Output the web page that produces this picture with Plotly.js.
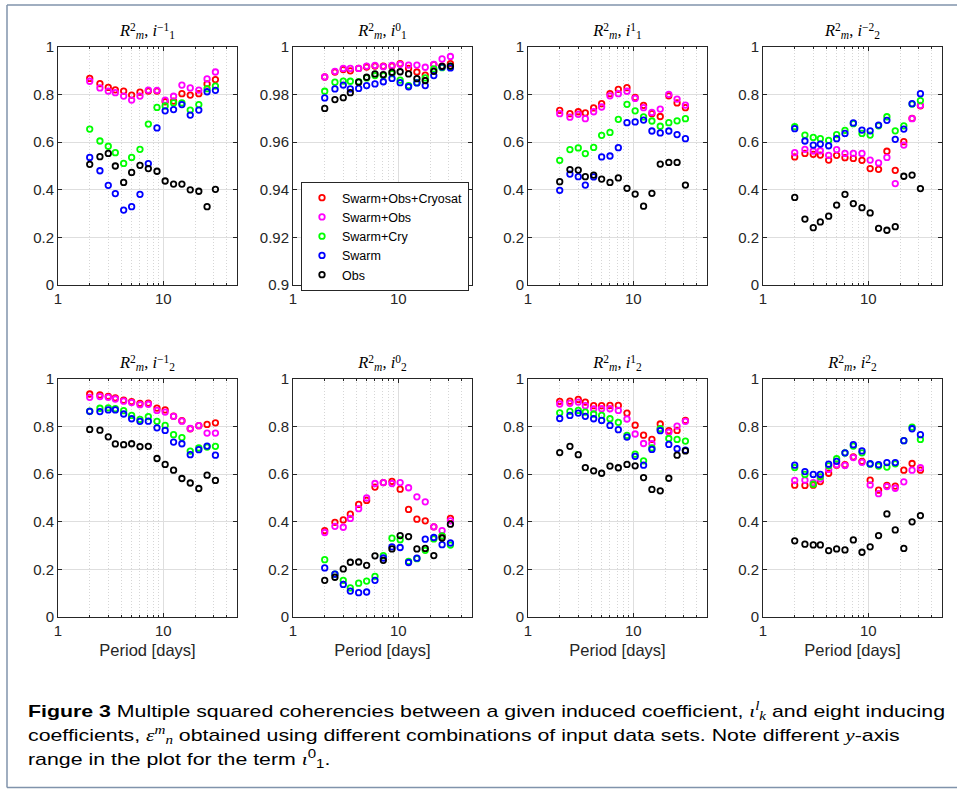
<!DOCTYPE html>
<html>
<head>
<meta charset="utf-8">
<script src="https://cdn.plot.ly/plotly-3.0.1.min.js"></script>
<style>
  html,body{margin:0;padding:0;background:#fff;overflow:hidden;}
  #wrap{position:relative;width:957px;height:789px;}
  #plot{position:absolute;left:0;top:0;width:957px;height:789px;}
  #cap{position:absolute;left:28px;top:700px;font-family:'Liberation Sans',Arial,sans-serif;font-size:17px;line-height:24px;color:#000;white-space:nowrap;transform-origin:0 0;}
  .m{font-family:'Liberation Serif','DejaVu Serif',serif;font-style:italic;}
  .csp{font-size:12px;line-height:0;vertical-align:7px;}
  .csb{font-size:12px;line-height:0;vertical-align:-3px;}
  .ptitle{position:absolute;height:22px;line-height:20px;text-align:center;white-space:nowrap;
          font-family:'Liberation Serif','Times New Roman',serif;font-size:16.5px;color:#000;}
  .sp{font-size:11.5px;line-height:0;vertical-align:5.5px;}
  .sb{font-size:11.5px;line-height:0;vertical-align:-2.7px;}
</style>
</head>
<body>
<div id="wrap">
  <div id="plot"></div>
  <div id="titles"></div>
  <div id="cap">
    <div id="l1"><b>Figure 3</b> Multiple squared coherencies between a given induced coefficient, <span class="m">ι</span><span class="m csp">l</span><span class="m csb">k</span> and eight inducing</div>
    <div id="l2">coefficients, <span class="m">ε</span><span class="m csp">m</span><span class="m csb">n</span> obtained using different combinations of input data sets. Note different <span class="m">y</span>-axis</div>
    <div id="l3">range in the plot for the term <span class="m">ι</span><span class="csp">0</span><span class="csb">1</span>.</div>
  </div>
</div>
<script>
// ---------------- DATA ----------------
const periods = [2, 2.5, 3, 3.5, 4.2, 5, 6, 7.2, 8.7, 10.4, 12.5, 15, 18, 21.7, 26, 31.2];

const seriesNames = ['Swarm+Obs+Cryosat', 'Swarm+Obs', 'Swarm+Cry', 'Swarm', 'Obs'];
const seriesColors = ['#ff0000', '#ff00ff', '#00ff00', '#0000ff', '#000000'];

// panel titles: R^2_m, i^{sup}_{sub}
const titleSup = ['−1', '0', '1', '−2', '−1', '0', '1', '2'];
const titleSub = ['1', '1', '1', '2', '2', '2', '2', '2'];

const yTickVals = [0, 0.2, 0.4, 0.6, 0.8, 1];
const yTickText = ['0', '0.2', '0.4', '0.6', '0.8', '1'];
const yTickValsI10 = [0.9, 0.92, 0.94, 0.96, 0.98, 1];
const yTickTextI10 = ['0.9', '0.92', '0.94', '0.96', '0.98', '1'];
const xTickVals = [1, 10];
const xTickText = ['1', '10'];
const xMinorVals = [2, 3, 4, 5, 6, 7, 8, 9, 20, 30, 40];
const xAxisTitle = 'Period [days]';

// Panel 1: i_1^-1
const p1Red     = [0.868,0.846,0.83,0.82,0.815,0.798,0.81,0.815,0.815,0.77,0.773,0.804,0.798,0.804,0.845,0.863];
const p1Magenta = [0.856,0.828,0.815,0.808,0.794,0.777,0.794,0.819,0.818,0.777,0.793,0.84,0.828,0.819,0.866,0.895];
const p1Green   = [0.655,0.605,0.583,0.556,0.511,0.536,0.57,0.676,0.746,0.752,0.765,0.765,0.735,0.758,0.825,0.836];
const p1Blue    = [0.536,0.48,0.419,0.384,0.315,0.329,0.381,0.51,0.66,0.732,0.737,0.758,0.714,0.735,0.812,0.818];
const p1Black   = [0.507,0.539,0.553,0.5,0.431,0.473,0.503,0.489,0.478,0.437,0.424,0.424,0.40,0.394,0.329,0.402];

// Panel 2: i_1^0
const p2Red     = [0.9874,0.9895,0.9905,0.990,0.991,0.9916,0.992,0.992,0.992,0.993,0.991,0.9895,0.9882,0.9926,0.992,0.993];
const p2Magenta = [0.9874,0.9898,0.991,0.991,0.991,0.992,0.9923,0.9917,0.9923,0.9927,0.9924,0.9924,0.9915,0.9927,0.995,0.996];
const p2Green   = [0.9814,0.9852,0.9857,0.9856,0.9854,0.987,0.988,0.988,0.9888,0.9861,0.9838,0.985,0.987,0.9908,0.9913,0.9919];
const p2Blue    = [0.9786,0.9824,0.984,0.9824,0.9826,0.9838,0.9845,0.9854,0.9868,0.985,0.9833,0.9849,0.9838,0.988,0.9916,0.9912];
const p2Black   = [0.9742,0.9779,0.9787,0.9808,0.9852,0.9873,0.9887,0.9884,0.9894,0.9896,0.9887,0.9867,0.9859,0.9898,0.9919,0.992];

// Panel 3: i_1^1
const p3Red     = [0.734,0.72,0.728,0.723,0.744,0.762,0.804,0.822,0.829,0.788,0.755,0.72,0.708,0.795,0.765,0.745];
const p3Magenta = [0.72,0.705,0.717,0.699,0.728,0.748,0.795,0.804,0.814,0.784,0.745,0.725,0.739,0.801,0.781,0.756];
const p3Green   = [0.524,0.569,0.576,0.552,0.578,0.629,0.641,0.696,0.759,0.732,0.706,0.689,0.667,0.682,0.69,0.699];
const p3Blue    = [0.398,0.466,0.455,0.42,0.454,0.538,0.542,0.577,0.682,0.685,0.693,0.647,0.639,0.647,0.632,0.615];
const p3Black   = [0.434,0.485,0.483,0.455,0.462,0.445,0.431,0.45,0.406,0.382,0.331,0.385,0.508,0.515,0.515,0.42];

// Panel 4: i_2^-2
const p4Red     = [0.538,0.553,0.549,0.546,0.525,0.545,0.535,0.532,0.524,0.489,0.486,0.562,0.482,0.602,0.70,0.753];
const p4Magenta = [0.556,0.57,0.563,0.564,0.545,0.569,0.553,0.553,0.553,0.525,0.513,0.536,0.426,0.588,0.699,0.755];
const p4Green   = [0.665,0.63,0.62,0.615,0.608,0.632,0.65,0.678,0.637,0.63,0.669,0.707,0.648,0.669,0.76,0.775];
const p4Blue    = [0.657,0.605,0.588,0.592,0.585,0.615,0.637,0.681,0.651,0.648,0.672,0.692,0.612,0.655,0.762,0.804];
const p4Black   = [0.368,0.277,0.241,0.265,0.289,0.336,0.381,0.342,0.325,0.303,0.238,0.23,0.245,0.457,0.462,0.405];

// Panel 5: i_2^-1
const p5Red     = [0.937,0.933,0.927,0.921,0.911,0.905,0.898,0.899,0.878,0.87,0.844,0.825,0.791,0.804,0.809,0.816];
const p5Magenta = [0.923,0.926,0.923,0.916,0.907,0.901,0.892,0.894,0.868,0.861,0.843,0.823,0.792,0.804,0.773,0.773];
const p5Green   = [0.865,0.877,0.879,0.875,0.867,0.847,0.83,0.842,0.822,0.805,0.766,0.754,0.697,0.71,0.714,0.717];
const p5Blue    = [0.864,0.863,0.87,0.87,0.853,0.833,0.822,0.823,0.795,0.784,0.735,0.728,0.682,0.703,0.718,0.68];
const p5Black   = [0.788,0.785,0.757,0.727,0.724,0.728,0.716,0.717,0.666,0.641,0.617,0.582,0.563,0.54,0.596,0.574];

// Panel 6: i_2^0
const p6Red     = [0.363,0.398,0.408,0.432,0.473,0.49,0.546,0.565,0.57,0.537,0.452,0.411,0.404,0.379,0.34,0.414];
const p6Magenta = [0.355,0.381,0.377,0.414,0.455,0.5,0.561,0.565,0.561,0.565,0.543,0.505,0.484,0.379,0.363,0.404];
const p6Green   = [0.241,0.18,0.154,0.122,0.142,0.151,0.171,0.258,0.331,0.325,0.234,0.245,0.28,0.328,0.341,0.302];
const p6Blue    = [0.206,0.18,0.137,0.109,0.102,0.105,0.154,0.248,0.295,0.292,0.229,0.247,0.327,0.334,0.304,0.311];
const p6Black   = [0.154,0.167,0.202,0.23,0.231,0.217,0.257,0.238,0.286,0.342,0.338,0.286,0.288,0.258,0.332,0.39];

// Panel 7: i_2^1
const p7Red     = [0.906,0.907,0.914,0.903,0.888,0.888,0.889,0.889,0.857,0.806,0.764,0.746,0.811,0.783,0.784,0.826];
const p7Magenta = [0.895,0.898,0.903,0.888,0.874,0.875,0.875,0.868,0.832,0.769,0.729,0.728,0.79,0.776,0.802,0.822];
const p7Green   = [0.858,0.864,0.868,0.861,0.853,0.847,0.833,0.818,0.763,0.684,0.656,0.71,0.791,0.75,0.746,0.739];
const p7Blue    = [0.834,0.847,0.857,0.843,0.833,0.826,0.805,0.787,0.756,0.675,0.638,0.704,0.783,0.725,0.707,0.701];
const p7Black   = [0.691,0.717,0.682,0.628,0.614,0.604,0.634,0.627,0.641,0.635,0.586,0.536,0.53,0.583,0.68,0.698];

// Panel 8: i_2^2
const p8Red     = [0.554,0.553,0.554,0.569,0.604,0.638,0.64,0.673,0.654,0.575,0.533,0.553,0.55,0.617,0.645,0.617];
const p8Magenta = [0.574,0.575,0.565,0.58,0.62,0.64,0.637,0.67,0.65,0.555,0.518,0.548,0.541,0.568,0.617,0.627];
const p8Green   = [0.628,0.599,0.558,0.589,0.635,0.665,0.689,0.718,0.69,0.642,0.634,0.63,0.644,0.741,0.798,0.746];
const p8Blue    = [0.638,0.611,0.599,0.599,0.642,0.654,0.69,0.724,0.698,0.644,0.64,0.649,0.649,0.741,0.791,0.766];
const p8Black   = [0.32,0.306,0.303,0.303,0.279,0.286,0.282,0.324,0.272,0.295,0.342,0.433,0.366,0.288,0.40,0.426];

// ---------------- BUILD ----------------
const panelData = [
  [p1Red, p1Magenta, p1Green, p1Blue, p1Black],
  [p2Red, p2Magenta, p2Green, p2Blue, p2Black],
  [p3Red, p3Magenta, p3Green, p3Blue, p3Black],
  [p4Red, p4Magenta, p4Green, p4Blue, p4Black],
  [p5Red, p5Magenta, p5Green, p5Blue, p5Black],
  [p6Red, p6Magenta, p6Green, p6Blue, p6Black],
  [p7Red, p7Magenta, p7Green, p7Blue, p7Black],
  [p8Red, p8Magenta, p8Green, p8Blue, p8Black]
];

const W = 957, H = 789;
const colLeft = [58, 293, 528, 763];
const panelW = 179;
const rowTop = [47, 379];
const panelH = 238;
const ink = '#262626';
const sansFont = 'Liberation Sans, Arial, sans-serif';

const traces = [];
const layout = {
  width: W, height: H,
  margin: {l: 0, r: 0, t: 0, b: 0},
  paper_bgcolor: '#ffffff',
  plot_bgcolor: '#ffffff',
  font: {family: sansFont, color: ink},
  showlegend: true,
  legend: {
    x: 301 / W, y: 1 - 182 / H, xanchor: 'left', yanchor: 'top',
    bgcolor: '#ffffff', bordercolor: ink, borderwidth: 1,
    font: {family: sansFont, size: 12.5, color: '#000'},
    tracegroupgap: 0, itemwidth: 30
  },
  shapes: []
};

function axId(k, letter) { return k === 0 ? letter : letter + (k + 1); }

const titlesDiv = document.getElementById('titles');

for (let k = 0; k < 8; k++) {
  const col = k % 4, row = Math.floor(k / 4);
  const L = colLeft[col], T = rowTop[row];
  const xa = axId(k, 'x'), ya = axId(k, 'y');
  const xName = k === 0 ? 'xaxis' : 'xaxis' + (k + 1);
  const yName = k === 0 ? 'yaxis' : 'yaxis' + (k + 1);
  const isI10 = (k === 1);

  layout[xName] = {
    type: 'log', range: [0, Math.log10(50)],
    domain: [L / W, (L + panelW) / W], anchor: ya,
    tickmode: 'array', tickvals: xTickVals, ticktext: xTickText,
    ticks: 'inside', ticklen: 4, tickcolor: ink, tickwidth: 1,
    showline: true, linecolor: ink, linewidth: 1, mirror: 'ticks',
    showgrid: true, gridcolor: '#dedede', gridwidth: 1,
    zeroline: false, fixedrange: true,
    tickfont: {family: sansFont, size: 15, color: ink},
    minor: {
      tickmode: 'array', tickvals: xMinorVals,
      ticks: 'inside', ticklen: 2, tickcolor: ink,
      showgrid: true, gridcolor: '#d6d6d6', griddash: '1px,2px', gridwidth: 1
    }
  };
  if (row === 1) {
    layout[xName].title = {text: xAxisTitle, font: {family: sansFont, size: 16.5, color: ink}, standoff: 6};
  }
  layout[yName] = {
    range: isI10 ? [0.9, 1] : [0, 1],
    domain: [1 - (T + panelH) / H, 1 - T / H], anchor: xa,
    tickmode: 'array',
    tickvals: isI10 ? yTickValsI10 : yTickVals,
    ticktext: isI10 ? yTickTextI10 : yTickText,
    ticks: 'inside', ticklen: 4, tickcolor: ink, tickwidth: 1,
    showline: true, linecolor: ink, linewidth: 1, mirror: 'ticks',
    showgrid: true, gridcolor: '#dedede', gridwidth: 1,
    zeroline: false, fixedrange: true,
    tickfont: {family: sansFont, size: 15, color: ink}
  };

  for (let s = 0; s < 5; s++) {
    traces.push({
      type: 'scatter', mode: 'markers',
      x: periods, y: panelData[k][s],
      xaxis: xa, yaxis: ya,
      name: seriesNames[s],
      showlegend: k === 1,
      cliponaxis: false,
      marker: {symbol: 'circle-open', size: 5.5, color: seriesColors[s],
               line: {width: 1.8, color: seriesColors[s]}},
      hoverinfo: 'skip'
    });
  }

  // Panel title (HTML): R^2_m, i^{sup}_{sub}
  const t = document.createElement('div');
  t.className = 'ptitle';
  t.style.left = L + 'px';
  t.style.width = panelW + 'px';
  t.style.top = (T - 26) + 'px';
  t.innerHTML = '<i>R</i><span class="sp">2</span><span class="sb"><i>m</i></span>, ' +
                '<i>i</i><span class="sp">' + titleSup[k] + '</span><span class="sb">' + titleSub[k] + '</span>';
  titlesDiv.appendChild(t);
}

// outer frame
const frame = '#8093ab';
layout.shapes.push({type: 'line', xref: 'paper', yref: 'paper', x0: 7 / W, x1: 1, y0: 1 - 5 / H, y1: 1 - 5 / H, line: {color: frame, width: 1.5}});
layout.shapes.push({type: 'line', xref: 'paper', yref: 'paper', x0: 7 / W, x1: 7 / W, y0: 1 - 5 / H, y1: 1 - 787.5 / H, line: {color: frame, width: 1.5}});
layout.shapes.push({type: 'line', xref: 'paper', yref: 'paper', x0: 7 / W, x1: 1, y0: 1 - 787.5 / H, y1: 1 - 787.5 / H, line: {color: frame, width: 1.5}});

Plotly.newPlot('plot', traces, layout, {staticPlot: true, displayModeBar: false});

// fit caption line 1 to the reference width
(function () {
  const cap = document.getElementById('cap');
  const l1 = document.getElementById('l1');
  const r = document.createRange();
  r.selectNodeContents(l1);
  const w = r.getBoundingClientRect().width;
  if (w > 0) cap.style.transform = 'scaleX(' + (917 / w).toFixed(4) + ')';
})();
</script>
</body>
</html>
